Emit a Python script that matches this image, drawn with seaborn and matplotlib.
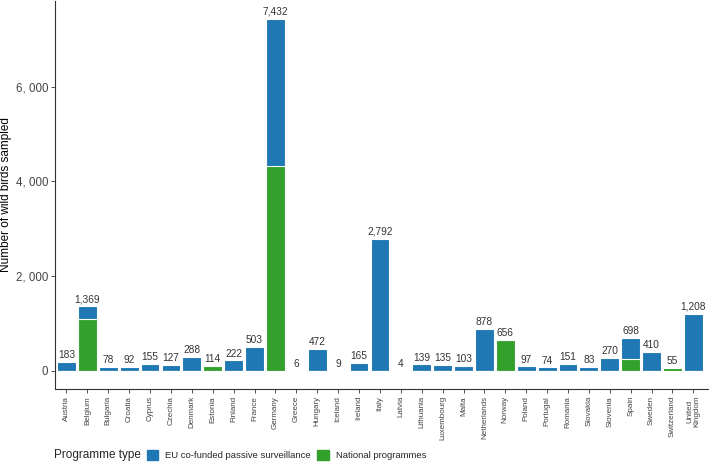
import matplotlib
matplotlib.use('Agg')
import matplotlib.pyplot as plt
import matplotlib.patches as mpatches
import seaborn as sns
import pandas as pd

# Data
countries = ['Austria', 'Belgium', 'Bulgaria', 'Croatia', 'Cyprus', 'Czechia', 'Denmark',
             'Estonia', 'Finland', 'France', 'Germany', 'Greece', 'Hungary', 'Iceland',
             'Ireland', 'Italy', 'Latvia', 'Lithuania', 'Luxembourg', 'Malta', 'Netherlands',
             'Norway', 'Poland', 'Portugal', 'Romania', 'Slovakia', 'Slovenia', 'Spain',
             'Sweden', 'Switzerland', 'United\nKingdom']
totals = [183, 1369, 78, 92, 155, 127, 288, 114, 222, 503, 7432, 6, 472, 9, 165, 2792,
          4, 139, 135, 103, 878, 656, 97, 74, 151, 83, 270, 698, 410, 55, 1208]
national = [0, 1088, 0, 0, 0, 0, 0, 114, 0, 0, 4322, 0, 0, 9, 0, 0,
            0, 0, 0, 0, 0, 656, 0, 0, 0, 0, 0, 253, 0, 55, 0]

df = pd.DataFrame({'country': countries, 'total': totals, 'national': national})

blue = '#1F78B4'
green = '#33A02C'

sns.set_style('white')
plt.rcParams['font.family'] = ['Liberation Sans', 'DejaVu Sans']

fig = plt.figure(figsize=(7.09, 4.62), dpi=100)
ax = fig.add_axes([55 / 709, 1 - 389 / 462, 653 / 709, 389 / 462 - 0.002])

# total bar in blue, national part overlaid in green
sns.barplot(data=df, x='country', y='total', color=blue, width=0.9,
            edgecolor='white', linewidth=0.8, saturation=1, ax=ax)
sns.barplot(data=df, x='country', y='national', color=green, width=0.9,
            edgecolor='white', linewidth=0.8, saturation=1, ax=ax)

for i, v in enumerate(totals):
    ax.text(i, v + 40, f'{v:,}', ha='center', va='bottom', fontsize=7.3, color='#333333')

ax.set_xlim(-0.55, len(countries) - 0.3)
ax.set_ylim(-380, 7810)
ax.set_yticks([0, 2000, 4000, 6000])
ax.set_yticklabels(['0', '2, 000', '4, 000', '6, 000'], fontsize=8.3, color='#444444')
ax.set_xticks(range(len(countries)))
ax.set_xticklabels(countries, rotation=90, fontsize=5.8, color='#444444', linespacing=0.95)
ax.set_xlabel('')
ax.set_ylabel('Number of wild birds sampled', fontsize=8.5, color='black')
ax.yaxis.set_label_coords(-0.066, 0.5)
ax.tick_params(axis='both', length=3, color='#333333', width=0.6, pad=2, bottom=True, left=True)
sns.despine(ax=ax)
for s in ['left', 'bottom']:
    ax.spines[s].set_color('#333333')
    ax.spines[s].set_linewidth(0.8)

# legend at the bottom, title on the left
fig.text(54 / 709, 1 - 455 / 462, 'Programme type', fontsize=8.5, va='center', ha='left')
handles = [mpatches.Patch(color=blue, label='EU co-funded passive surveillance'),
           mpatches.Patch(color=green, label='National programmes')]
fig.legend(handles=handles, loc='center left', bbox_to_anchor=(147 / 709, 1 - 455 / 462),
           ncol=2, frameon=False, fontsize=6.8, handlelength=1.2, handleheight=1.2,
           handletextpad=0.75, columnspacing=0.65, borderaxespad=0, borderpad=0)

fig.savefig('out.png', dpi=100)
